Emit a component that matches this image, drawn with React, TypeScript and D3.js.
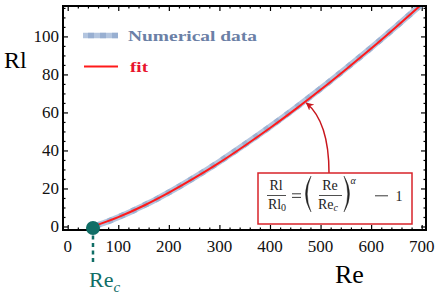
import React, { useEffect, useRef } from 'react';
import * as d3 from 'd3';

// numerical data (Re, Rl)
const numRe = [55, 75, 100, 125, 150, 175, 200, 250, 300, 350, 400, 450, 500, 550, 600, 650, 700, 715];
const numRl = [0.3, 2.2, 4.9, 7.8, 11.0, 14.3, 17.9, 25.7, 34.1, 43.1, 52.5, 62.3, 72.5, 83.1, 94.0, 105.3, 117.0, 120.5];

// fitted curve, sampled along Re
const fitRe = [50, 100, 150, 200, 250, 300, 350, 400, 450, 500, 550, 600, 650, 700, 715];
const fitRl = [0, 4.9, 10.9, 17.8, 25.4, 33.6, 42.5, 51.8, 61.6, 71.9, 82.6, 93.6, 105.1, 116.9, 120.5];

const xTicks = [0, 100, 200, 300, 400, 500, 600, 700];
const yTicks = [0, 20, 40, 60, 80, 100];
const reCritical = 50;
const legendLabels = ['Numerical data', 'fit'];

const W = 436;
const H = 297;
const SERIF = 'Liberation Serif';
const TEAL = '#106e66';
const RED = '#ff1a1a';
const DARKRED = '#c8161d';

const App = () => {
  const svgRef = useRef<SVGSVGElement>(null);

  useEffect(() => {
    const svg = d3.select(svgRef.current);
    svg.selectAll('*').remove();

    const left = 63, right = 426, top = 6, bottom = 230;
    const x = d3.scaleLinear().domain([-9.3, 708.5]).range([left, right]);
    const y = d3.scaleLinear().domain([-1.85, 116]).range([bottom, top]);

    svg.append('defs').append('clipPath').attr('id', 'plot-clip')
      .append('rect')
      .attr('x', left).attr('y', top)
      .attr('width', right - left).attr('height', bottom - top);

    const marker = svg.select('defs').append('marker')
      .attr('id', 'arrow-head')
      .attr('viewBox', '0 0 10 10')
      .attr('refX', 9).attr('refY', 5)
      .attr('markerWidth', 8).attr('markerHeight', 8)
      .attr('markerUnits', 'userSpaceOnUse')
      .attr('orient', 'auto');
    marker.append('path').attr('d', 'M0,0 L10,5 L0,10 L3,5 Z').attr('fill', DARKRED);

    // ticks (inside, on all four sides), labels drawn separately
    const minorX = d3.range(0, 720, 20).filter(v => v % 100 !== 0);
    const minorY = d3.range(0, 120, 5).filter(v => v % 20 !== 0);

    const styleAxis = (g: any) => {
      g.select('.domain').remove();
      g.selectAll('line').attr('stroke', '#000').attr('stroke-width', 1.2);
      g.selectAll('text').remove();
    };

    const addAxis = (axis: any, tx: number, ty: number) =>
      svg.append('g').attr('transform', `translate(${tx},${ty})`).call(axis).call(styleAxis);

    addAxis(d3.axisBottom(x).tickValues(xTicks).tickSize(-5), 0, bottom);
    addAxis(d3.axisBottom(x).tickValues(minorX).tickSize(-2.5), 0, bottom);
    addAxis(d3.axisTop(x).tickValues(xTicks).tickSize(-5), 0, top);
    addAxis(d3.axisTop(x).tickValues(minorX).tickSize(-2.5), 0, top);
    addAxis(d3.axisLeft(y).tickValues(yTicks).tickSize(-5), left, 0);
    addAxis(d3.axisLeft(y).tickValues(minorY).tickSize(-2.5), left, 0);
    addAxis(d3.axisRight(y).tickValues(yTicks).tickSize(-5), right, 0);
    addAxis(d3.axisRight(y).tickValues(minorY).tickSize(-2.5), right, 0);

    svg.append('g').selectAll('text').data(xTicks).enter().append('text')
      .attr('x', d => x(d)).attr('y', 252)
      .attr('text-anchor', 'middle')
      .attr('font-family', SERIF).attr('font-size', 17).attr('fill', '#111')
      .text(d => String(d));
    svg.append('g').selectAll('text').data(yTicks).enter().append('text')
      .attr('x', 59).attr('y', d => y(d) + 5.5)
      .attr('text-anchor', 'end')
      .attr('font-family', SERIF).attr('font-size', 17).attr('fill', '#111')
      .text(d => String(d));

    // curves
    const plot = svg.append('g').attr('clip-path', 'url(#plot-clip)');
    const numData = numRe.map((re, i) => [re, numRl[i]] as [number, number]);
    const fitData = fitRe.map((re, i) => [re, fitRl[i]] as [number, number]);
    const line = d3.line<[number, number]>()
      .x(d => x(d[0]))
      .y(d => y(d[1]))
      .curve(d3.curveMonotoneX);

    plot.append('path').datum(numData)
      .attr('fill', 'none').attr('stroke', '#b3c5df').attr('stroke-width', 6)
      .attr('d', line);
    plot.append('path').datum(numData)
      .attr('fill', 'none').attr('stroke', '#8ea6cc').attr('stroke-width', 6)
      .attr('stroke-dasharray', '5 8').attr('opacity', 0.6)
      .attr('d', line);
    plot.append('path').datum(fitData)
      .attr('fill', 'none').attr('stroke', RED).attr('stroke-width', 2)
      .attr('d', line);

    // frame
    svg.append('rect')
      .attr('x', left).attr('y', top)
      .attr('width', right - left).attr('height', bottom - top)
      .attr('fill', 'none').attr('stroke', '#000').attr('stroke-width', 2);

    // legend
    const lg = svg.append('g');
    lg.append('line').attr('x1', 83).attr('x2', 118).attr('y1', 35.5).attr('y2', 35.5)
      .attr('stroke', '#b3c5df').attr('stroke-width', 5.5);
    lg.append('line').attr('x1', 83).attr('x2', 118).attr('y1', 35.5).attr('y2', 35.5)
      .attr('stroke', '#8ea6cc').attr('stroke-width', 5.5)
      .attr('stroke-dasharray', '6 6').attr('stroke-dashoffset', -5).attr('opacity', 0.7);
    lg.append('text').attr('x', 128).attr('y', 40.5)
      .attr('font-family', SERIF).attr('font-weight', 'bold').attr('font-size', 15.5)
      .attr('textLength', 129).attr('lengthAdjust', 'spacingAndGlyphs')
      .attr('fill', '#6b80a6').text(legendLabels[0]);
    lg.append('line').attr('x1', 84).attr('x2', 118).attr('y1', 66.5).attr('y2', 66.5)
      .attr('stroke', RED).attr('stroke-width', 2);
    lg.append('text').attr('x', 130).attr('y', 72)
      .attr('font-family', SERIF).attr('font-weight', 'bold').attr('font-size', 15.5)
      .attr('textLength', 18).attr('lengthAdjust', 'spacingAndGlyphs')
      .attr('fill', '#e8142e').text(legendLabels[1]);

    // axis titles
    svg.append('text').attr('x', 4).attr('y', 68)
      .attr('font-family', SERIF).attr('font-size', 24).attr('fill', '#000').text('Rl');
    svg.append('text').attr('x', 335).attr('y', 283)
      .attr('font-family', SERIF).attr('font-size', 26).attr('fill', '#000').text('Re');

    // critical Reynolds marker
    const cx = x(reCritical), cy = y(0);
    svg.append('line').attr('x1', cx).attr('x2', cx).attr('y1', cy + 9).attr('y2', 264)
      .attr('stroke', TEAL).attr('stroke-width', 2.5).attr('stroke-dasharray', '4 3.5');
    svg.append('circle').attr('cx', cx).attr('cy', cy + 1.5).attr('r', 7).attr('fill', TEAL);
    const rec = svg.append('text').attr('x', cx - 4).attr('y', 287)
      .attr('font-family', SERIF).attr('font-size', 22).attr('fill', TEAL);
    rec.append('tspan').text('Re');
    rec.append('tspan').attr('dy', 5).attr('font-size', 15).attr('font-style', 'italic').text('c');

    // annotation arrow
    const tip = [x(470), y(65.5)];
    svg.append('path')
      .attr('d', `M329,173 Q329,122 ${tip[0] + 1},${tip[1] + 1}`)
      .attr('fill', 'none').attr('stroke', DARKRED).attr('stroke-width', 1.5)
      .attr('marker-end', 'url(#arrow-head)');

    // formula box
    const fb = svg.append('g');
    fb.append('rect').attr('x', 258).attr('y', 173).attr('width', 154).attr('height', 51)
      .attr('fill', '#fff').attr('stroke', '#d8232a').attr('stroke-width', 1.5);
    const ink = '#222';
    const ft = (tx: number, ty: number, s: string, size = 14, anchor = 'middle') =>
      fb.append('text').attr('x', tx).attr('y', ty).attr('text-anchor', anchor)
        .attr('font-family', SERIF).attr('font-size', size).attr('fill', ink).text(s);
    ft(276, 189.5, 'Rl');
    const den1 = ft(277, 208.5, 'Rl');
    den1.append('tspan').attr('font-size', 10).attr('dy', 2).text('0');
    fb.append('line').attr('x1', 267).attr('x2', 286).attr('y1', 195.5).attr('y2', 195.5)
      .attr('stroke', ink).attr('stroke-width', 0.8);
    // equals and minus as rules
    fb.append('line').attr('x1', 292).attr('x2', 301).attr('y1', 193.8).attr('y2', 193.8)
      .attr('stroke', ink).attr('stroke-width', 0.9);
    fb.append('line').attr('x1', 292).attr('x2', 301).attr('y1', 197.4).attr('y2', 197.4)
      .attr('stroke', ink).attr('stroke-width', 0.9);
    fb.append('line').attr('x1', 375).attr('x2', 388).attr('y1', 195.8).attr('y2', 195.8)
      .attr('stroke', ink).attr('stroke-width', 0.9);
    // big parentheses
    const paren = (px: number, dir: number) =>
      fb.append('path')
        .attr('d', `M${px},176 Q${px - dir * 11},194 ${px},212 Q${px - dir * 7.5},194 ${px},176 Z`)
        .attr('fill', ink).attr('stroke', ink).attr('stroke-width', 0.4);
    paren(311, 1);
    paren(344, -1);
    ft(330, 189.5, 'Re');
    const den2 = ft(328, 208.5, 'Re');
    den2.append('tspan').attr('font-size', 10).attr('dy', 2).attr('font-style', 'italic').text('c');
    fb.append('line').attr('x1', 319).attr('x2', 342).attr('y1', 195.5).attr('y2', 195.5)
      .attr('stroke', ink).attr('stroke-width', 0.8);
    ft(353, 184, 'α', 10).attr('font-style', 'italic');
    ft(399, 201, '1', 14);
  }, []);

  return (
    <div style={{ position: 'fixed', left: 0, top: 0 }}>
      <svg ref={svgRef} width={W} height={H} style={{ display: 'block', background: '#fff' }}></svg>
    </div>
  );
};

export default App;
